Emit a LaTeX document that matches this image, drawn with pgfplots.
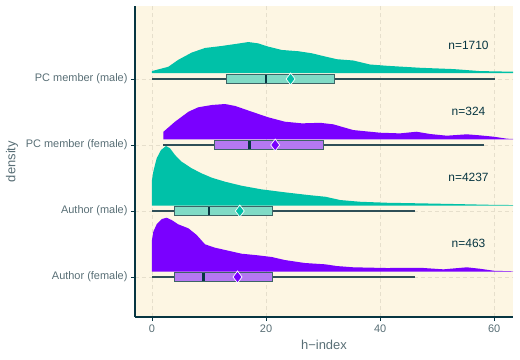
\documentclass[border=0pt]{standalone}
\usepackage{pgfplots}
\pgfplotsset{compat=1.18}
\usepgfplotslibrary{statistics}
\usepackage{fontspec}
\setmainfont{Liberation Sans}

\definecolor{panelbg}{HTML}{FDF6E3}
\definecolor{gridc}{HTML}{E6DFCC}
\definecolor{axisdark}{HTML}{073642}
\definecolor{labgrey}{HTML}{586E75}
\definecolor{tealc}{HTML}{00C1A8}
\definecolor{purpc}{HTML}{7A00FF}
\definecolor{tealbox}{HTML}{80DBC6}
\definecolor{purpbox}{HTML}{B578F2}
\definecolor{boxedge}{HTML}{3E6466}
\definecolor{whisk}{HTML}{2F4F57}

\pgfplotsset{
  rainbox/.style={
    boxplot/box extend=0.126,
    boxplot/whisker extend=0,
    boxplot/every box/.style={draw=boxedge, line width=0.9pt},
    boxplot/every whisker/.style={draw=whisk, line width=1.1pt},
    boxplot/every median/.style={draw=axisdark, line width=2.6pt},
  },
}

\begin{document}
\begin{tikzpicture}
\useasboundingbox (-135bp,-43bp) rectangle (385bp,317bp);
\begin{axis}[
  at={(0,0)}, anchor=south west,
  scale only axis, width=378bp, height=311bp,
  xmin=-2.98, xmax=63.3, ymin=0.394, ymax=5.106,
  axis x line*=bottom, axis y line*=left,
  axis line style={draw=axisdark, line width=1.1pt},
  axis background/.style={fill=panelbg},
  xtick={0,20,40,60},
  ytick={1,2,3,4},
  yticklabels={Author (female), Author (male), PC member (female), PC member (male)},
  tick align=outside,
  major tick length=4bp,
  tick style={draw=axisdark, line width=0.8pt},
  ticklabel style={font=\fontsize{11}{13}\selectfont, text=labgrey},
  /pgf/number format/assume math mode=true,
  grid=major,
  major grid style={draw=gridc, line width=0.6pt, dash pattern=on 4pt off 3pt},
  xlabel={h−index}, ylabel={density},
  label style={font=\fontsize{13}{15}\selectfont, text=labgrey},
  xlabel style={at={(rel axis cs:0.5,-0.09)}, anchor=center},
  ylabel style={at={(rel axis cs:-0.325,0.5)}, anchor=center},
  boxplot/draw direction=x,
]

% densities (half violins)
% PC member (male), baseline 4.09
\addplot[draw=none, fill=tealc] coordinates {
  (0,4.09) (0,4.12) (2.86,4.185) (4.6,4.29) (6.96,4.40) (9.3,4.47) (12.2,4.50)
  (14.6,4.53) (16.9,4.56) (18.6,4.54) (20.4,4.49) (22.75,4.44) (25.7,4.42)
  (28,4.39) (30.4,4.34) (32.4,4.30) (35.3,4.28) (38.2,4.22) (41.2,4.20)
  (47,4.17) (52.9,4.15) (57.5,4.12) (63.4,4.11) (70,4.10) (70,4.09)};
% PC member (female), baseline 3.086
\addplot[draw=none, fill=purpc] coordinates {
  (2,3.086) (2,3.20) (4.04,3.353) (6.4,3.504) (8.1,3.571) (10.5,3.606)
  (12.8,3.621) (14.6,3.591) (17.5,3.504) (20.4,3.419) (23.3,3.353)
  (26.3,3.328) (29.5,3.336) (31.8,3.313) (35.3,3.226) (40,3.186)
  (43.5,3.176) (46.4,3.201) (48.8,3.166) (51.7,3.141) (55.2,3.162)
  (57.5,3.146) (59.9,3.126) (62.2,3.096) (64,3.088) (70,3.086)};
% Author (male), baseline 2.08
\addplot[draw=none, fill=tealc] coordinates {
  (0,2.08) (0,2.47) (0.23,2.595) (0.82,2.798) (1.58,2.924) (2.46,2.985)
  (3.16,2.95) (4.04,2.848) (5.2,2.747) (6.96,2.647) (8.7,2.57) (10.5,2.504)
  (12.8,2.444) (15.7,2.383) (19.2,2.328) (23.3,2.283) (27.4,2.242)
  (30.4,2.216) (33,2.166) (36.5,2.14) (41.2,2.125) (47,2.116) (52.9,2.106)
  (58.7,2.095) (63.4,2.09) (70,2.085) (70,2.08)};
% Author (female), baseline 1.08
\addplot[draw=none, fill=purpc] coordinates {
  (0,1.08) (0,1.56) (0.23,1.686) (0.82,1.798) (1.7,1.878) (2.57,1.898)
  (3.45,1.863) (4.6,1.798) (6.4,1.737) (7.84,1.636) (9.3,1.495) (11.05,1.444)
  (13.4,1.398) (15.7,1.353) (18.6,1.328) (21,1.303) (23.3,1.257) (26.8,1.212)
  (30.4,1.192) (32.4,1.166) (35.3,1.147) (41.2,1.136) (47,1.14) (51.1,1.116)
  (55.2,1.147) (57.5,1.125) (59.9,1.095) (63.4,1.086) (70,1.08)};

% boxplots
\addplot[rainbox, fill=tealbox,
  boxplot prepared={draw position=4, lower whisker=0, lower quartile=13,
    median=20, upper quartile=32, upper whisker=60.2}] coordinates {};
\addplot[rainbox, fill=purpbox,
  boxplot prepared={draw position=3, lower whisker=2, lower quartile=11,
    median=17.1, upper quartile=30, upper whisker=58.2}] coordinates {};
\addplot[rainbox, fill=tealbox,
  boxplot prepared={draw position=2, lower whisker=0, lower quartile=4,
    median=10, upper quartile=21.1, upper whisker=46.2}] coordinates {};
\addplot[rainbox, fill=purpbox,
  boxplot prepared={draw position=1, lower whisker=0, lower quartile=4,
    median=9, upper quartile=21.1, upper whisker=46.2}] coordinates {};

% means
\addplot[only marks, mark=diamond*, mark size=6pt,
  mark options={fill=tealc, draw=white, line width=0.7pt}]
  coordinates {(24.3,4) (15.4,2)};
\addplot[only marks, mark=diamond*, mark size=6pt,
  mark options={fill=purpc, draw=white, line width=0.7pt}]
  coordinates {(21.6,3) (15.0,1)};

% counts
\node[font=\fontsize{12}{14}\selectfont, text=axisdark] at (axis cs:55.5,4.51) {n=1710};
\node[font=\fontsize{12}{14}\selectfont, text=axisdark] at (axis cs:55.5,3.51) {n=324};
\node[font=\fontsize{12}{14}\selectfont, text=axisdark] at (axis cs:55.5,2.51) {n=4237};
\node[font=\fontsize{12}{14}\selectfont, text=axisdark] at (axis cs:55.5,1.51) {n=463};
\end{axis}
\end{tikzpicture}
\end{document}
